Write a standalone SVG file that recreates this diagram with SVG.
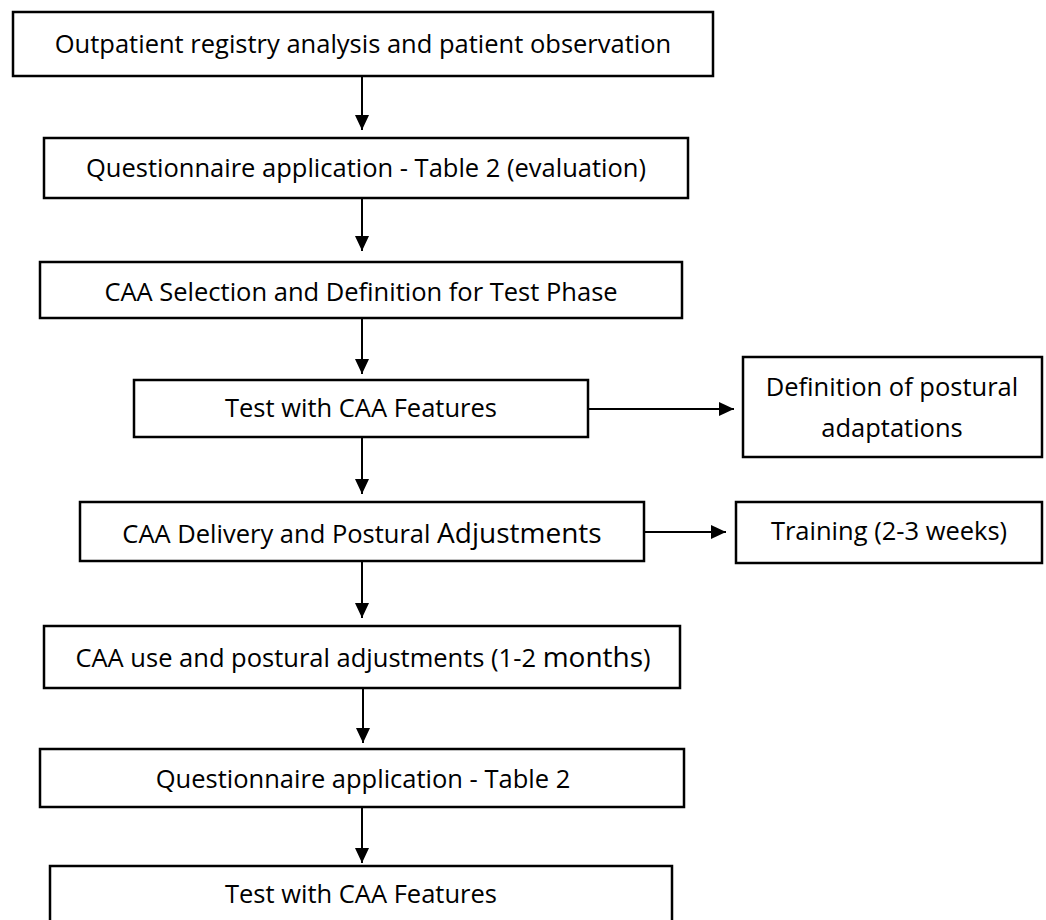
<svg xmlns="http://www.w3.org/2000/svg" width="1046" height="920" viewBox="0 0 1046 920">
<style>
.box{fill:#fff;stroke:#000;stroke-width:2.5}
.t{font-family:"Open Sans","Noto Sans","Liberation Sans",sans-serif;font-size:25.5px;fill:#000;text-anchor:middle}
.big{font-size:28px}
.c{stroke:#000;stroke-width:2;fill:none;marker-end:url(#ah)}
</style>
<defs>
<marker id="ah" markerWidth="15" markerHeight="14" refX="15" refY="7" orient="auto" markerUnits="userSpaceOnUse" viewBox="0 0 15 14">
<path d="M0,0 L15,7 L0,14 Z" fill="#000"/>
</marker>
</defs>
<rect width="1046" height="920" fill="#fff"/>
<g id="n1"><rect class="box" x="13" y="12" width="700" height="64"/><text class="t" x="363" y="53">Outpatient registry analysis and patient observation</text></g>
<g id="n2"><rect class="box" x="44" y="138" width="644" height="60"/><text class="t" x="366" y="177">Questionnaire application - Table 2 (evaluation)</text></g>
<g id="n3"><rect class="box" x="40" y="262" width="642" height="56"/><text class="t" x="361" y="301">CAA Selection and Definition for Test Phase</text></g>
<g id="n4"><rect class="box" x="134" y="380" width="454" height="57"/><text class="t" x="361" y="417">Test with CAA Features</text></g>
<g id="n5"><rect class="box" x="743" y="357" width="299" height="100"/><text class="t" x="892" y="396">Definition of postural</text><text class="t" x="892" y="437">adaptations</text></g>
<g id="n6"><rect class="box" x="80" y="502" width="564" height="59"/><text class="t" x="362" y="543">CAA Delivery and Postural <tspan class="big">Adjustments</tspan></text></g>
<g id="n7"><rect class="box" x="736" y="502" width="306" height="61"/><text class="t" x="889" y="540">Training (2-3 weeks)</text></g>
<g id="n8"><rect class="box" x="44" y="626" width="636" height="62"/><text class="t" x="363" y="667">CAA use and postural adjustments (1-2 <tspan class="big">months</tspan>)</text></g>
<g id="n9"><rect class="box" x="40" y="749" width="644" height="58"/><text class="t" x="363" y="788">Questionnaire application - Table 2</text></g>
<g id="n10"><rect class="box" x="50" y="866" width="622" height="70"/><text class="t" x="361" y="903">Test with CAA Features</text></g>
<g id="connectors">
<line class="c" x1="362" y1="76" x2="362" y2="130"/>
<line class="c" x1="362" y1="198" x2="362" y2="251"/>
<line class="c" x1="362" y1="318" x2="362" y2="374"/>
<line class="c" x1="588" y1="409" x2="734" y2="409"/>
<line class="c" x1="362" y1="437" x2="362" y2="494"/>
<line class="c" x1="644" y1="532" x2="726" y2="532"/>
<line class="c" x1="362" y1="561" x2="362" y2="618"/>
<line class="c" x1="363" y1="688" x2="363" y2="743"/>
<line class="c" x1="362" y1="807" x2="362" y2="863"/>
</g>
</svg>
